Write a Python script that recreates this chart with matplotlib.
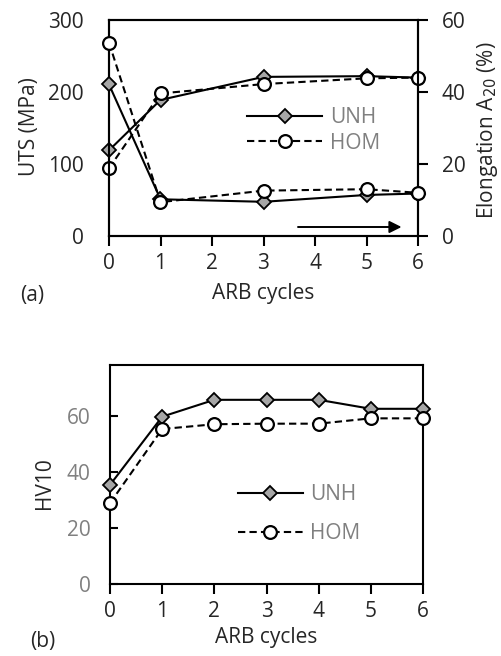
import matplotlib.pyplot as plt

plt.rcParams['font.family'] = ['Open Sans', 'DejaVu Sans']

# (a) tensile data
cyc_a = [0, 1, 3, 5, 6]
uts_unh = [119, 189, 221, 222, 220]
uts_hom = [94, 198, 211, 219, 220]
el_unh = [42.1, 10.2, 9.5, 11.4, 11.8]
el_hom = [53.7, 9.4, 12.6, 13.0, 12.0]

# (b) hardness data
cyc_b = [0, 1, 2, 3, 4, 5, 6]
hv_unh = [35.3, 59.6, 65.6, 65.6, 65.6, 62.4, 62.4]
hv_hom = [28.8, 55.2, 56.9, 57.1, 57.1, 59.0, 59.0]

W, H = 501, 656
fs = 15
dark = '#262626'
grey = '#808080'
unh_kw = dict(color='black', lw=1.5, ls='-', marker='D', ms=6.8, mfc='#a6a6a6', mec='black', mew=1.3, clip_on=False, zorder=5)
hom_kw = dict(color='black', lw=1.5, ls=(0, (3.5, 2)), marker='o', ms=9.2, mfc='white', mec='black', mew=1.6, clip_on=False, zorder=6)


def px(x, y):
    return x / W, 1 - y / H


fig = plt.figure(figsize=(W / 100, H / 100), dpi=100)

# ---- panel (a)
ax = fig.add_axes([109 / W, 1 - 236 / H, 309 / W, 216 / H])
ax2 = ax.twinx()
ax.plot(cyc_a, uts_unh, **unh_kw)
ax.plot(cyc_a, uts_hom, **hom_kw)
ax2.plot(cyc_a, el_unh, **unh_kw)
ax2.plot(cyc_a, el_hom, **hom_kw)
ax.set_xlim(0, 6)
ax.set_ylim(0, 300)
ax2.set_ylim(0, 60)
ax.set_xticks(range(7))
ax.set_yticks([0, 100, 200, 300])
ax2.set_yticks([0, 20, 40, 60])
for s in list(ax.spines.values()) + list(ax2.spines.values()):
    s.set_linewidth(1.5)
ax.tick_params(axis='x', direction='out', length=7, width=1.5, labelsize=fs, colors='black', labelcolor=dark, pad=5)
ax.tick_params(axis='y', length=0, labelsize=fs, labelcolor=dark, pad=18)
ax2.tick_params(axis='y', direction='out', length=7, width=1.5, labelsize=fs, colors='black', labelcolor=dark, pad=10)
ax.annotate('', xy=(5.68, 12.5), xytext=(3.67, 12.5),
            arrowprops=dict(arrowstyle='-|>', color='black', lw=1.4, mutation_scale=18, shrinkA=0, shrinkB=0))
ax2.plot([], [], label='UNH', **unh_kw)
ax2.plot([], [], label='HOM', **hom_kw)
lg = ax2.legend(loc='upper left', bbox_to_anchor=(0.447, 0.595), frameon=False, fontsize=fs,
                handlelength=3.6, labelspacing=0.2, handletextpad=0.4, borderpad=0, borderaxespad=0)
for t in lg.get_texts():
    t.set_color(grey)

fig.text(*px(30, 127), 'UTS (MPa)', fontsize=fs, color=dark, rotation=90, ha='center', va='center')
fig.text(*px(488, 130), 'Elongation A$_{20}$ (%)', fontsize=fs, color=dark, rotation=90, ha='center', va='center')
fig.text(*px(263, 293), 'ARB cycles', fontsize=fs, color=dark, ha='center', va='center')
fig.text(*px(32, 296), '(a)', fontsize=fs, color=dark, ha='center', va='center')

# ---- panel (b)
bx = fig.add_axes([110 / W, 1 - 584 / H, 313 / W, 219 / H])
bx.plot(cyc_b, hv_unh, label='UNH', **unh_kw)
bx.plot(cyc_b, hv_hom, label='HOM', **hom_kw)
bx.set_xlim(0, 6)
bx.set_ylim(0, 78)
bx.set_xticks(range(7))
bx.set_yticks([0, 20, 40, 60])
for s in bx.spines.values():
    s.set_linewidth(1.5)
bx.tick_params(axis='x', direction='out', length=7, width=1.5, labelsize=fs, colors='black', labelcolor=dark, pad=5)
bx.tick_params(axis='y', direction='in', length=6, width=1.5, labelsize=fs, colors='black', labelcolor=grey, pad=14)
lg = bx.legend(loc='upper left', bbox_to_anchor=(0.409, 0.455), frameon=False, fontsize=fs,
               handlelength=3.1, labelspacing=0.85, handletextpad=0.35, borderpad=0, borderaxespad=0)
for t in lg.get_texts():
    t.set_color(grey)

fig.text(*px(45, 483), 'HV10', fontsize=fs, color=dark, rotation=90, ha='center', va='center')
fig.text(*px(266, 637), 'ARB cycles', fontsize=fs, color=dark, ha='center', va='center')
fig.text(*px(43, 642), '(b)', fontsize=fs, color=dark, ha='center', va='center')

fig.savefig('out.png', dpi=100)
